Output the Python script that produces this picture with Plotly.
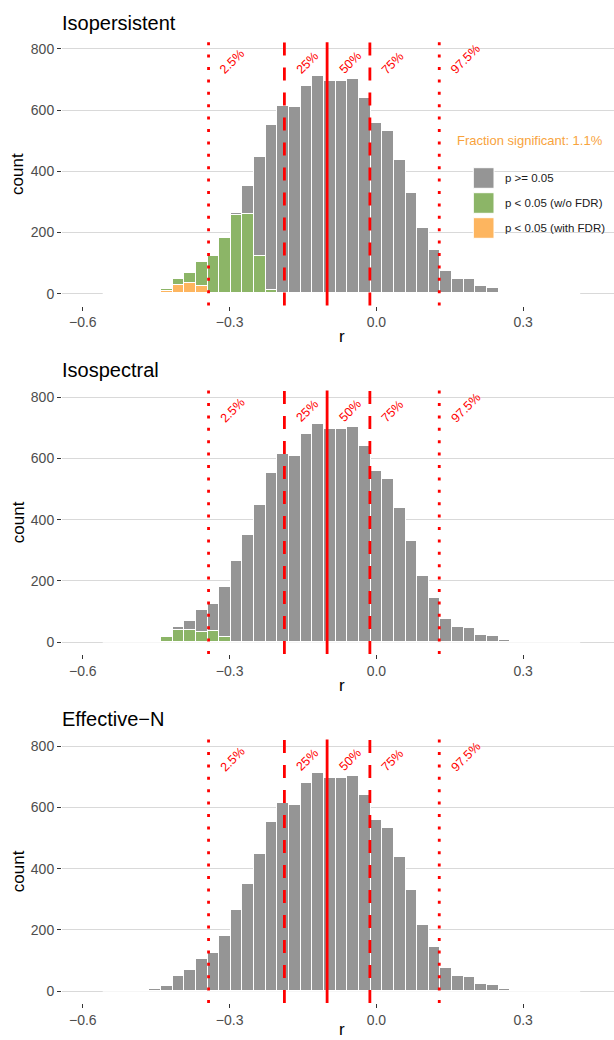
import plotly.graph_objects as go

# ---------------- data ----------------
BIN_WIDTH = 0.0238
BIN_INDEX = list(range(-23, 18))
bin_centers = [round(k * BIN_WIDTH, 4) for k in BIN_INDEX]

# total counts per bin (identical distribution in all three panels)
total_counts = [1, 0, 0, 1, 4, 16, 47, 68, 103, 124, 180, 262, 350, 447, 551,
                614, 608, 679, 712, 694, 693, 701, 638, 557, 531, 437, 329,
                214, 141, 74, 48, 46, 23, 18, 6, 2, 1, 0, 0, 0, 1]

# Isopersistent
iso_p_orange = [1, 0, 0, 1, 4, 9, 28, 33, 25, 0, 0, 0, 0, 0, 0,
                0, 0, 0, 0, 0, 0, 0, 0, 0, 0, 0, 0,
                0, 0, 0, 0, 0, 0, 0, 0, 0, 0, 0, 0, 0, 0]
iso_p_green = [0, 0, 0, 0, 0, 7, 19, 35, 78, 124, 180, 257, 261, 123, 10,
               0, 0, 0, 0, 0, 0, 0, 0, 0, 0, 0, 0,
               0, 0, 0, 0, 0, 0, 2, 5, 2, 1, 0, 0, 0, 1]
# Isospectral
iso_s_orange = [0] * 41
iso_s_green = [1, 0, 0, 1, 3, 14, 37, 39, 33, 35, 16, 0, 0, 0, 0,
               0, 0, 0, 0, 0, 0, 0, 0, 0, 0, 0, 0,
               0, 0, 0, 0, 0, 0, 0, 0, 0, 0, 0, 0, 0, 0]
# Effective-N
eff_orange = [0] * 41
eff_green = [0] * 41

panel_titles = ["Isopersistent", "Isospectral", "Effective\u2212N"]
panel_orange = [iso_p_orange, iso_s_orange, eff_orange]
panel_green = [iso_p_green, iso_s_green, eff_green]

quantile_values = [-0.343, -0.188, -0.1007, -0.0133, 0.1285]
quantile_labels = ["2.5%", "25%", "50%", "75%", "97.5%"]
quantile_styles = ["dot", "dash", "solid", "dash", "dot"]

legend_labels = ["p >= 0.05", "p < 0.05 (w/o FDR)", "p < 0.05 (with FDR)"]
fraction_text = "Fraction significant: 1.1%"

x_ticks = [-0.6, -0.3, 0.0, 0.3]
x_tick_text = ["\u22120.6", "\u22120.3", "0.0", "0.3"]
y_ticks = [0, 200, 400, 600, 800]

# ---------------- style ----------------
GRAY = "#959595"
GREEN = "#8CB567"
ORANGE = "#FDB55F"
TEXT_ORANGE = "#F8A33C"
RED = "#FF0000"
FONT = "Liberation Sans"
W, H = 614, 1040
ML = 62
PW = W - ML

DASHES = {"dot": "3px,9.4px", "dash": "13px,12px", "solid": "solid"}

# panel vertical extents in pixels (top, bottom)
panel_px = [(42.2, 305.6), (390.4, 654.0), (739.4, 1003.0)]
title_px = [22.7, 370.0, 719.0]
xlabel_px = [336.5, 685.0, 1029.0]

X_RANGE = [-0.6425, 0.4856]
Y_RANGE = [-39, 822]


def py2paper(py):
    return (H - py) / H


def px2paper(px):
    return (px - ML) / PW


fig = go.Figure()
annotations = []
shapes = []

for i in range(3):
    xa = "x" if i == 0 else f"x{i+1}"
    ya = "y" if i == 0 else f"y{i+1}"
    gray_vals = [t - o - g for t, o, g in zip(total_counts, panel_orange[i], panel_green[i])]

    # white baseline covering zero-count bins (bin outlines)
    fig.add_trace(go.Scatter(
        x=[bin_centers[0] - BIN_WIDTH / 2, bin_centers[-1] + BIN_WIDTH / 2], y=[0, 0],
        mode="lines", line=dict(color="white", width=1.6), hoverinfo="skip",
        showlegend=False, xaxis=xa, yaxis=ya))

    for vals, col in [(panel_orange[i], ORANGE), (panel_green[i], GREEN), (gray_vals, GRAY)]:
        fig.add_trace(go.Bar(
            x=bin_centers, y=vals, width=BIN_WIDTH,
            marker=dict(color=col, line=dict(color="white", width=1.3)),
            showlegend=False, xaxis=xa, yaxis=ya))

    for q, lab, sty in zip(quantile_values, quantile_labels, quantile_styles):
        shapes.append(dict(type="line", xref=xa, yref=f"{ya} domain", x0=q, x1=q, y0=0, y1=1,
                           line=dict(color=RED, width=2.8, dash=DASHES[sty]), layer="above"))
        annotations.append(dict(xref=xa, yref=ya, x=q + 0.013, y=700, text=lab, showarrow=False,
                                textangle=-45, xanchor="left", yanchor="bottom",
                                font=dict(family=FONT, size=12.5, color=RED)))

    top, bot = panel_px[i]
    annotations.append(dict(xref="paper", yref="paper", x=-0.004, y=py2paper(title_px[i]),
                            text=panel_titles[i], showarrow=False, xanchor="left", yanchor="middle",
                            font=dict(family=FONT, size=20, color="black")))
    annotations.append(dict(xref="paper", yref="paper", x=px2paper(18), y=py2paper((top + bot) / 2),
                            text="count", showarrow=False, textangle=-90, xanchor="center",
                            yanchor="middle", font=dict(family=FONT, size=17, color="black")))
    annotations.append(dict(xref="paper", yref="paper", x=px2paper(342), y=py2paper(xlabel_px[i]),
                            text="r", showarrow=False, xanchor="center", yanchor="middle",
                            font=dict(family=FONT, size=17, color="black")))

    dom = [py2paper(bot), py2paper(top)]
    fig.layout[f"xaxis{'' if i == 0 else i+1}"] = dict(
        domain=[0, 1], anchor=ya, range=X_RANGE, tickvals=x_ticks, ticktext=x_tick_text,
        showgrid=False, zeroline=False, showline=False, ticks="outside", ticklen=4,
        tickcolor="#333333", tickwidth=1,
        tickfont=dict(family=FONT, size=14, color="#4D4D4D"))
    fig.layout[f"yaxis{'' if i == 0 else i+1}"] = dict(
        domain=dom, anchor=xa, range=Y_RANGE, tickvals=y_ticks,
        showgrid=True, gridcolor="#D9D9D9", gridwidth=1.4, zeroline=False, showline=False,
        ticks="outside", ticklen=4, tickcolor="#333333", tickwidth=1,
        tickfont=dict(family=FONT, size=14, color="#4D4D4D"))

# fraction significant text (panel 1)
annotations.append(dict(xref="x", yref="y", x=0.3137, y=500, text=fraction_text, showarrow=False,
                        xanchor="center", yanchor="middle",
                        font=dict(family=FONT, size=13, color=TEXT_ORANGE)))

# manual legend (panel 1)
key_tops = [167.7, 192.7, 217.7]
for lab, col, kt in zip(legend_labels, [GRAY, GREEN, ORANGE], key_tops):
    shapes.append(dict(type="rect", xref="paper", yref="paper",
                       x0=px2paper(473.3), x1=px2paper(494.0),
                       y0=py2paper(kt + 20.6), y1=py2paper(kt),
                       fillcolor=col, line=dict(color="white", width=1), layer="above"))
    annotations.append(dict(xref="paper", yref="paper", x=px2paper(502.5), y=py2paper(kt + 10.3),
                            text=lab, showarrow=False, xanchor="left", yanchor="middle",
                            font=dict(family=FONT, size=11.5, color="#1A1A1A")))

fig.update_layout(
    width=W, height=H, autosize=False,
    margin=dict(l=ML, r=0, t=0, b=0),
    paper_bgcolor="white", plot_bgcolor="white",
    barmode="stack", bargap=0,
    showlegend=False,
    annotations=annotations, shapes=shapes,
    font=dict(family=FONT),
)

fig.write_html("out.html", config={"displayModeBar": False},
               post_script="document.body.style.margin='0';document.body.style.overflow='hidden';")
